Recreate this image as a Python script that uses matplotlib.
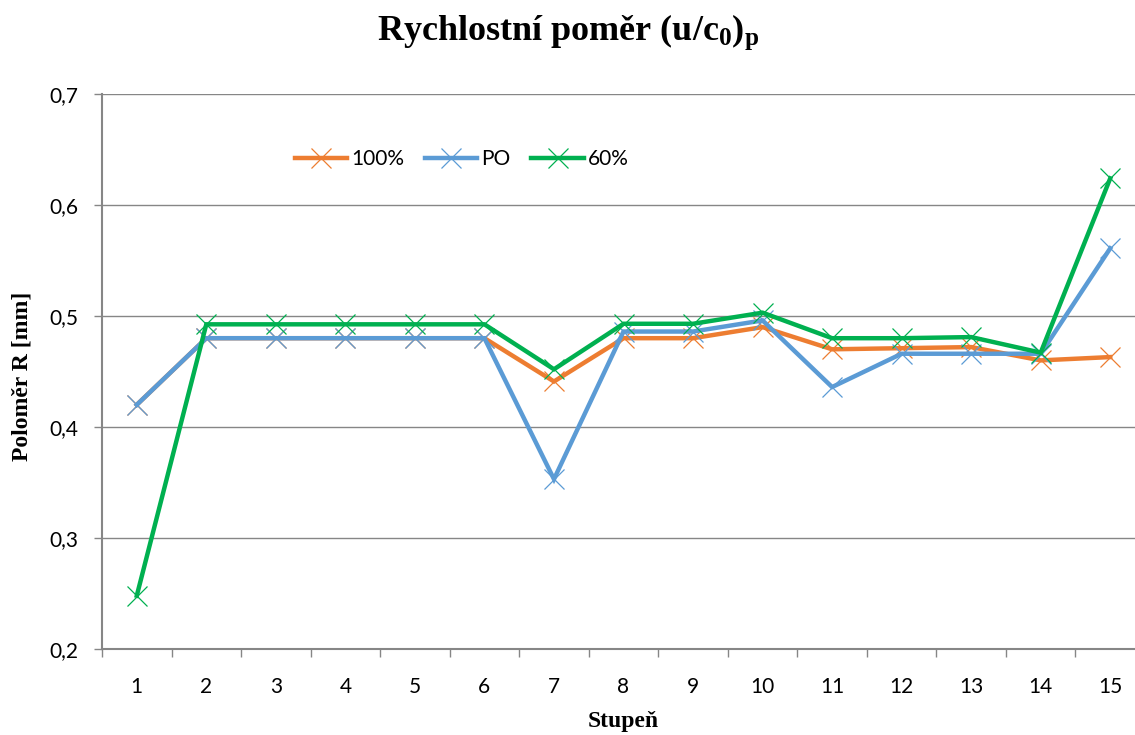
import matplotlib.pyplot as plt
from matplotlib.ticker import FuncFormatter, FixedLocator

plt.rcParams['mathtext.fontset'] = 'custom'
plt.rcParams['mathtext.bf'] = 'Liberation Serif:bold'
plt.rcParams['mathtext.rm'] = 'Liberation Serif:bold'
plt.rcParams['mathtext.default'] = 'bf'

stupen = list(range(1, 16))
r_100 = [0.420, 0.480, 0.480, 0.480, 0.480, 0.480, 0.441, 0.480, 0.480, 0.490,
         0.470, 0.471, 0.472, 0.460, 0.463]
r_po = [0.420, 0.480, 0.480, 0.480, 0.480, 0.480, 0.353, 0.486, 0.486, 0.496,
        0.436, 0.466, 0.466, 0.466, 0.561]
r_60 = [0.248, 0.4925, 0.4925, 0.4925, 0.4925, 0.4925, 0.452, 0.493, 0.493, 0.503,
        0.480, 0.480, 0.481, 0.467, 0.624]

W, H = 1135, 735
fig = plt.figure(figsize=(W / 100, H / 100), dpi=100)
# plot area runs a little past the right edge, as in the original
ax = fig.add_axes([102 / W, 1 - 649 / H, 1043 / W, 555 / H])

grey = '#868686'
series = [
    (r_100, '100%', '#ED7D31'),
    (r_po, 'PO', '#5B9BD5'),
    (r_60, '60%', '#00B050'),
]
for vals, name, col in series:
    ax.plot(stupen, vals, color=col, lw=3.2, marker='x', markersize=15,
            markeredgewidth=0.9, label=name, solid_joinstyle='miter')

ax.set_xlim(0.5, 15.5)
ax.set_ylim(0.2, 0.7)
ax.set_yticks([0.2, 0.3, 0.4, 0.5, 0.6, 0.7])
ax.yaxis.set_major_formatter(FuncFormatter(lambda v, p: f'{v:.1f}'.replace('.', ',')))
ax.set_xticks(stupen)
ax.xaxis.set_minor_locator(FixedLocator([i + 0.5 for i in range(0, 16)]))
ax.tick_params(axis='x', which='major', length=0, pad=20)
ax.tick_params(axis='x', which='minor', length=6, color=grey, width=1)
ax.tick_params(axis='y', length=6, color=grey, width=1, pad=11)
for lab in ax.get_xticklabels() + ax.get_yticklabels():
    lab.set_fontfamily('Lato')
    lab.set_fontsize(15)

ax.grid(axis='y', color=grey, lw=1)
ax.set_axisbelow(True)
for s in ['top', 'right']:
    ax.spines[s].set_visible(False)
for s in ['left', 'bottom']:
    ax.spines[s].set_color(grey)
    ax.spines[s].set_linewidth(1.5)

leg = ax.legend(loc='center', bbox_to_anchor=(0.345, 0.882), ncol=3, frameon=False,
                prop={'family': 'Lato', 'size': 15}, handlelength=2.5,
                handletextpad=0.2, columnspacing=1.0)

fig.text(568 / W, 1 - 40 / H, 'Rychlostní poměr (u/c$_0$)$_p$', ha='center', va='baseline',
         family='Liberation Serif', weight='bold', fontsize=26)
fig.text(22 / W, 1 - 376 / H, 'Poloměr R [mm]', rotation=90, ha='center', va='center',
         family='Liberation Serif', weight='bold', fontsize=17)
fig.text(623 / W, 1 - 722 / H, 'Stupeň', ha='center', va='center',
         family='Liberation Serif', weight='bold', fontsize=17)

fig.savefig('out.png', dpi=100)
